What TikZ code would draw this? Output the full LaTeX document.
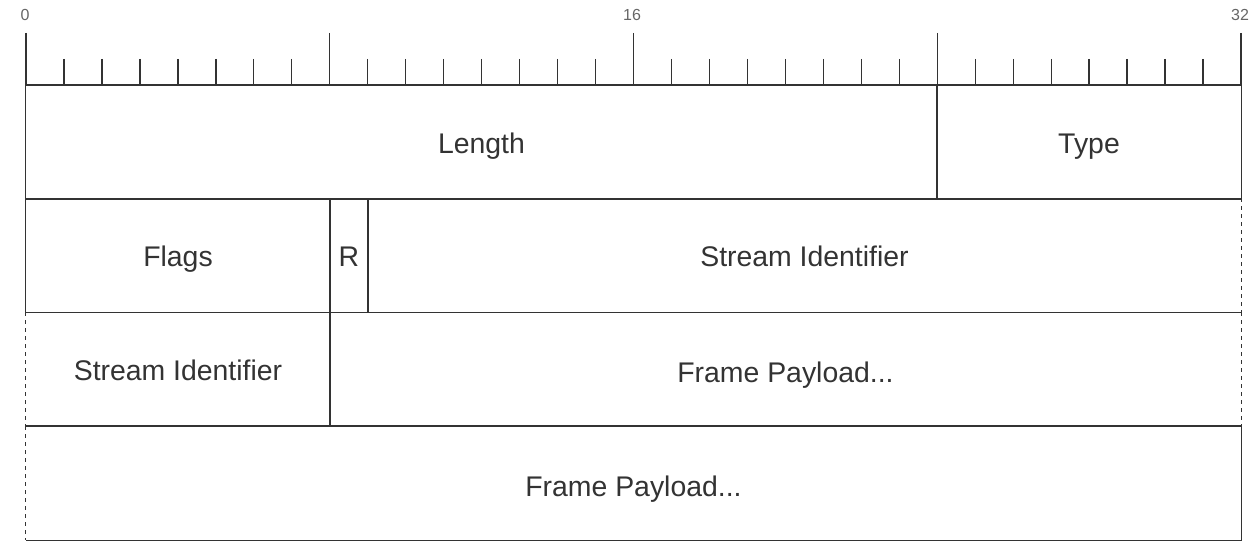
\documentclass[tikz,border=0pt]{standalone}
\usepackage{fontspec}
\setmainfont{Liberation Sans}
\begin{document}
\begin{tikzpicture}[x=0.75pt,y=-0.75pt,
  ln/.style={draw=black!80, line width=1pt},
  dsh/.style={ln, dash pattern=on 3pt off 3pt},
  field/.style={inner sep=0pt, text height=16.7pt, text depth=0pt, minimum height=85.3pt, text=black!80, font=\fontsize{21.3}{25}\selectfont},
  lbl/.style={text=black!60, font=\fontsize{12}{14}\selectfont, inner sep=0pt}]
\useasboundingbox (0,0) rectangle (1256,552);
% ruler
\draw[ln] (26,85) -- (1241,85);
\foreach \i in {0,...,32}{
  \pgfmathsetmacro{\xx}{26+\i*37.96875}
  \pgfmathtruncatemacro{\m}{mod(\i,8)}
  \ifnum\m=0
    \draw[ln] (\xx,33) -- (\xx,85);
  \else
    \draw[ln] (\xx,59) -- (\xx,85);
  \fi
}
\node[lbl] (l0) at (25,15) {0};
\node[lbl] (l16) at (632,15) {16};
\node[lbl] (l32) at (1240,15) {32};
% row 1
\node[field, minimum width=683.25pt] (len) at (481.5,142) {Length};
\node[field, minimum width=228pt] (type) at (1089,142) {Type};
\draw[ln] (len.north west) rectangle (len.south east);
\draw[ln] (type.north west) rectangle (type.south east);
% row 2
\node[field, minimum width=228pt] (flags) at (178,255.6) {Flags};
\node[field, minimum width=28.5pt] (r) at (349,255.6) {R};
\node[field, minimum width=654.75pt] (sid1) at (804.5,255.6) {Stream Identifier};
\draw[ln] (flags.north west) rectangle (flags.south east);
\draw[ln] (r.north west) rectangle (r.south east);
\draw[ln] (sid1.south east) -- (sid1.south west) -- (sid1.north west) -- (sid1.north east);
\draw[dsh] (sid1.north east) -- (sid1.south east);
% row 3
\node[field, minimum width=228pt] (sid2) at (178,369.4) {Stream Identifier};
\node[field, minimum width=683.25pt] (fp1) at (785.5,369.4) {\raisebox{-1.5pt}{Frame Payload...}};
\draw[ln] (sid2.north west) -- (sid2.north east) -- (sid2.south east) -- (sid2.south west);
\draw[dsh] (sid2.north west) -- (sid2.south west);
\draw[ln] (fp1.north east) -- (fp1.north west) -- (fp1.south west) -- (fp1.south east);
\draw[dsh] (fp1.north east) -- (fp1.south east);
% row 4
\node[field, minimum width=911.25pt] (fp2) at (633.5,483.2) {\raisebox{-1.5pt}{Frame Payload...}};
\draw[ln] (fp2.north west) -- (fp2.north east) -- (fp2.south east) -- (fp2.south west);
\draw[dsh] (fp2.north west) -- (fp2.south west);
\end{tikzpicture}
\end{document}
